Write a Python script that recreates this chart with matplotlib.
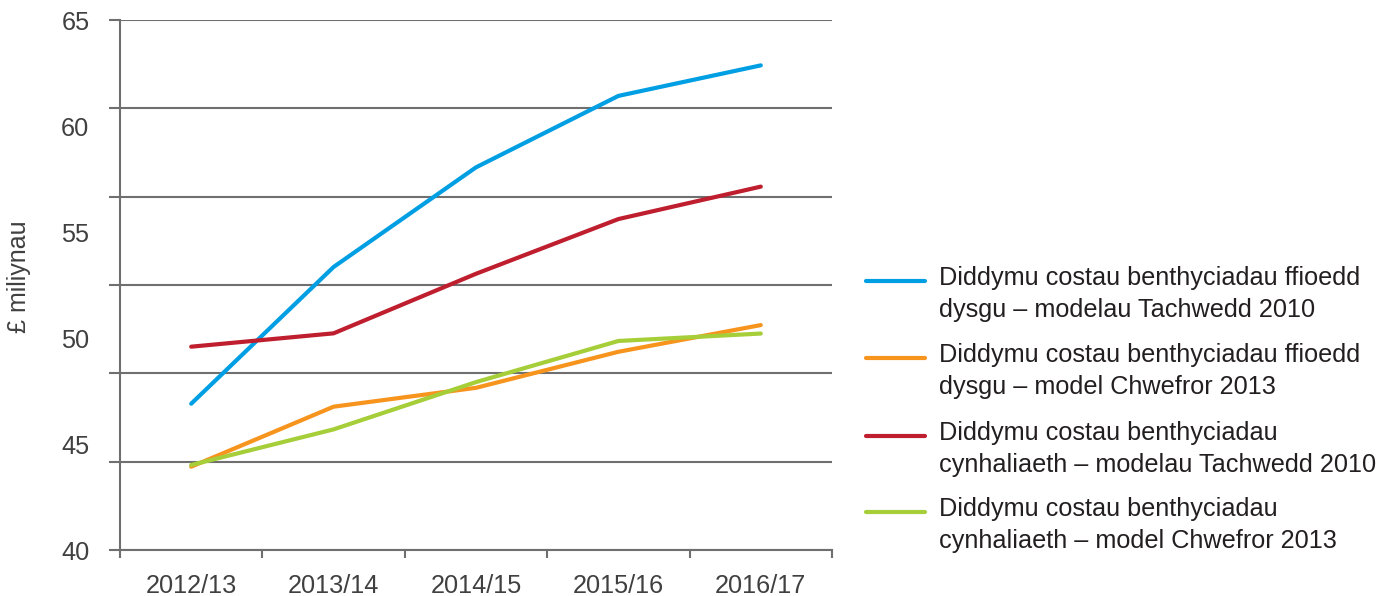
import matplotlib
matplotlib.use("Agg")
import matplotlib.pyplot as plt
from matplotlib.lines import Line2D
import numpy as np

plt.rcParams['font.family'] = ['Liberation Sans', 'DejaVu Sans']

categories = ["2012/13", "2013/14", "2014/15", "2015/16", "2016/17"]
fees_nov2010 = [46.9, 53.35, 58.05, 61.42, 62.86]
fees_feb2013 = [43.93, 46.76, 47.65, 49.35, 50.61]
maint_nov2010 = [49.59, 50.22, 53.03, 55.61, 57.14]
maint_feb2013 = [44.01, 45.69, 47.92, 49.86, 50.21]
y_labels = [40, 45, 50, 55, 60, 65]

series = [
    ("Diddymu costau benthyciadau ffioedd\ndysgu – modelau Tachwedd 2010", fees_nov2010, "#009fe3"),
    ("Diddymu costau benthyciadau ffioedd\ndysgu – model Chwefror 2013", fees_feb2013, "#f7941d"),
    ("Diddymu costau benthyciadau\ncynhaliaeth – modelau Tachwedd 2010", maint_nov2010, "#be1e2d"),
    ("Diddymu costau benthyciadau\ncynhaliaeth – model Chwefror 2013", maint_feb2013, "#a6ce39"),
]

W, H = 1387, 596
fig = plt.figure(figsize=(W / 100, H / 100), dpi=100)
ax = fig.add_axes([120 / W, 1 - 550 / H, (832 - 120) / W, (550 - 20) / H])

x = np.arange(len(categories))
for label, vals, col in series:
    ax.plot(x, vals, color=col, lw=3.0, solid_capstyle='round', zorder=3)

grid_col = "#6f6f6f"
ax.set_xlim(-0.5, len(categories) - 0.5)
ax.set_ylim(40, 65)
ax.yaxis.remove_overlapping_locs = False
ax.xaxis.remove_overlapping_locs = False

# y: gridlines / tick marks at 6 equal intervals, labels at 5-steps
ax.set_yticks(np.linspace(40, 65, 7))
ax.set_yticklabels([])
ax.set_yticks(y_labels, minor=True)
ax.set_yticklabels([str(v) for v in y_labels], minor=True)
ax.tick_params(axis='y', which='major', length=8, width=1.5, color=grid_col, direction='out')
ax.tick_params(axis='y', which='minor', length=0, pad=22, labelsize=18.2, labelcolor="#404040")
ax.yaxis.grid(True, which='major', color=grid_col, lw=1.5)

ax.set_xticks(np.arange(-0.5, len(categories), 1.0))
ax.set_xticklabels([])
ax.set_xticks(x, minor=True)
ax.set_xticklabels(categories, minor=True)
ax.tick_params(axis='x', which='major', length=6, width=1.5, color=grid_col, direction='out')
ax.tick_params(axis='x', which='minor', length=0, pad=17, labelsize=18.2, labelcolor="#404040")

for s in ['top', 'right']:
    ax.spines[s].set_visible(False)
for s in ['left', 'bottom']:
    ax.spines[s].set_color(grid_col)
    ax.spines[s].set_linewidth(1.5)
ax.spines['left'].set_bounds(40, 65)
ax.set_axisbelow(True)

fig.text(19 / W, 1 - 277 / H, "£ miliynau", rotation=90, ha='center', va='center',
         fontsize=18, color="#404040")

# legend
handle_y = [281, 358, 436, 512]
for (label, vals, col), hy in zip(series, handle_y):
    fy = 1 - hy / H
    fig.add_artist(Line2D([866 / W, 925 / W], [fy, fy], color=col, lw=3.0,
                          solid_capstyle='round', transform=fig.transFigure))
    fig.text(939 / W, 1 - (hy - 15) / H, label, ha='left', va='top', fontsize=18.2,
             color="#231f20", linespacing=1.4)

fig.savefig("out.png", dpi=100)
